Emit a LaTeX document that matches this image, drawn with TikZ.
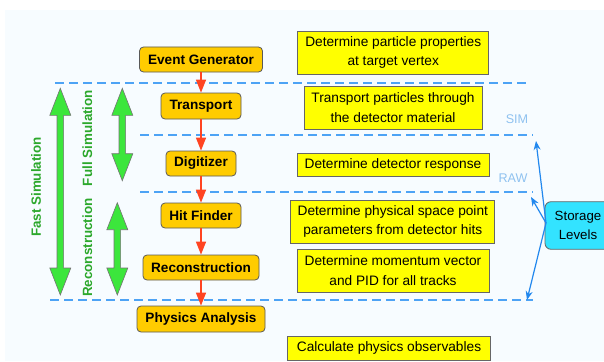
\documentclass[tikz,border=0pt]{standalone}
\usepackage{fontspec}
\setmainfont{Liberation Sans}
\usetikzlibrary{arrows.meta}
\definecolor{bgc}{HTML}{F7FCFF}
\definecolor{orangebox}{HTML}{FFCC00}
\definecolor{yellowbox}{HTML}{FFFF00}
\definecolor{cyanbox}{HTML}{33E3FF}
\definecolor{dashblue}{HTML}{4DA3F5}
\definecolor{redarrow}{HTML}{FF4422}
\definecolor{greenfill}{HTML}{3CE63C}
\definecolor{greentext}{HTML}{2CA82C}
\definecolor{lvlblue}{HTML}{8FC2F0}
\definecolor{storblue}{HTML}{2288EE}
\newcommand\fatarrow[3]{%
  \filldraw[fill=greenfill, draw=black!55, line width=0.6pt]
    (#1,#2) -- (#1+10.5,#2+27) -- (#1+3.3,#2+27) -- (#1+3.3,#3-27) -- (#1+10.5,#3-27)
    -- (#1,#3) -- (#1-10.5,#3-27) -- (#1-3.3,#3-27) -- (#1-3.3,#2+27) -- (#1-10.5,#2+27) -- cycle;}
\begin{document}
\begin{tikzpicture}[x=1pt,y=-1pt,
  stage/.style={draw=black!65, fill=orangebox, rounded corners=4pt, line width=0.8pt,
    inner sep=0pt, font=\fontsize{13.6}{16}\selectfont\bfseries, minimum height=25pt},
  desc/.style={draw=black!60, fill=yellowbox, line width=0.8pt, inner sep=0pt,
    align=center, font=\fontsize{13.7}{19.3}\selectfont},
  level/.style={dashblue, line width=1.3pt, dash pattern=on 9pt off 5pt},
  flow/.style={redarrow, line width=1.5pt, -{Triangle[width=10pt,length=13pt]}},
  store/.style={storblue, line width=1.2pt, -{Stealth[width=7pt,length=9pt]}},
  gtext/.style={greentext, rotate=90, font=\fontsize{13.4}{16}\selectfont\bfseries},
  lvltext/.style={lvlblue, font=\fontsize{12.6}{15}\selectfont}]
\useasboundingbox (0,0) rectangle (604,361);
\fill[white] (0,0) rectangle (604,361);
\fill[bgc] (5,10) rectangle (604,361);

% level lines
\coordinate (l1a) at (55,83);  \coordinate (l1b) at (530,83);
\coordinate (l2a) at (140,135); \coordinate (l2b) at (533,135);
\coordinate (l3a) at (140,192); \coordinate (l3b) at (533,192);
\coordinate (l4a) at (50,300);  \coordinate (l4b) at (533,300);
\draw[level] (l1a) -- (l1b);
\draw[level] (l2a) -- (l2b);
\draw[level] (l3a) -- (l3b);
\draw[level] (l4a) -- (l4b);

% stages
\node[stage, minimum width=123pt] (EG) at (201,59.5) {Event Generator};
\node[stage, minimum width=80pt, minimum height=26pt] (TR) at (201,106) {Transport};
\node[stage, minimum width=70pt] (DG) at (201,163.5) {Digitizer};
\node[stage, minimum width=80pt] (HF) at (201,215.5) {Hit Finder};
\node[stage, minimum width=116pt] (RC) at (201,267.5) {Reconstruction};
\node[stage, minimum width=128pt, minimum height=26pt] (PA) at (201,319) {Physics Analysis};

\draw[flow] (EG.south) -- (TR.north);
\draw[flow] (TR.south) -- (DG.north);
\draw[flow] (DG.south) -- (HF.north);
\draw[flow] (HF.south) -- (RC.north);
\draw[flow] (RC.south) -- (PA.north);

% descriptions
\node[desc, minimum width=191pt, minimum height=43pt] (D1) at (393.2,52.7) {Determine particle properties\\at target vertex};
\node[desc, minimum width=178pt, minimum height=43pt] (D2) at (393,107.5) {Transport particles through\\the detector material};
\node[desc, minimum width=192pt, minimum height=23.4pt] (D3) at (393,165) {Determine detector response};
\node[desc, minimum width=204pt, minimum height=43pt] (D4) at (392.8,221.7) {Determine physical space point\\parameters from detector hits};
\node[desc, minimum width=192pt, minimum height=43pt] (D5) at (393,270.5) {Determine momentum vector\\and PID for all tracks};
\node[desc, minimum width=203pt, minimum height=24pt] (D6) at (389,348) {Calculate physics observables};

% green arrows
\fatarrow{60.3}{88.3}{295}
\fatarrow{122.3}{88.3}{180.7}
\fatarrow{117.3}{202.7}{295}
\node[gtext] (fast) at (36,187) {Fast Simulation};
\node[gtext] (full) at (87.3,138) {Full Simulation};
\node[gtext] (reco) at (87.3,247.7) {Reconstruction};

% storage levels
\node[lvltext] (sim) at (517,119) {SIM};
\node[lvltext] (raw) at (513,178) {RAW};
\node[draw=black!60, fill=cyanbox, rounded corners=6pt, line width=0.8pt, inner sep=0pt,
  minimum width=66pt, minimum height=47.6pt, align=center,
  font=\fontsize{13.3}{19.3}\selectfont] (SL) at (578,225.5) {Storage\\Levels};
\coordinate (src) at (546,223);
\coordinate (t1) at (536,141);
\coordinate (t2) at (531,197);
\coordinate (t3) at (527,300);
\draw[store] (src) -- (t1);
\draw[store] (src) -- (t2);
\draw[store] (src) -- (t3);
\end{tikzpicture}
\end{document}
